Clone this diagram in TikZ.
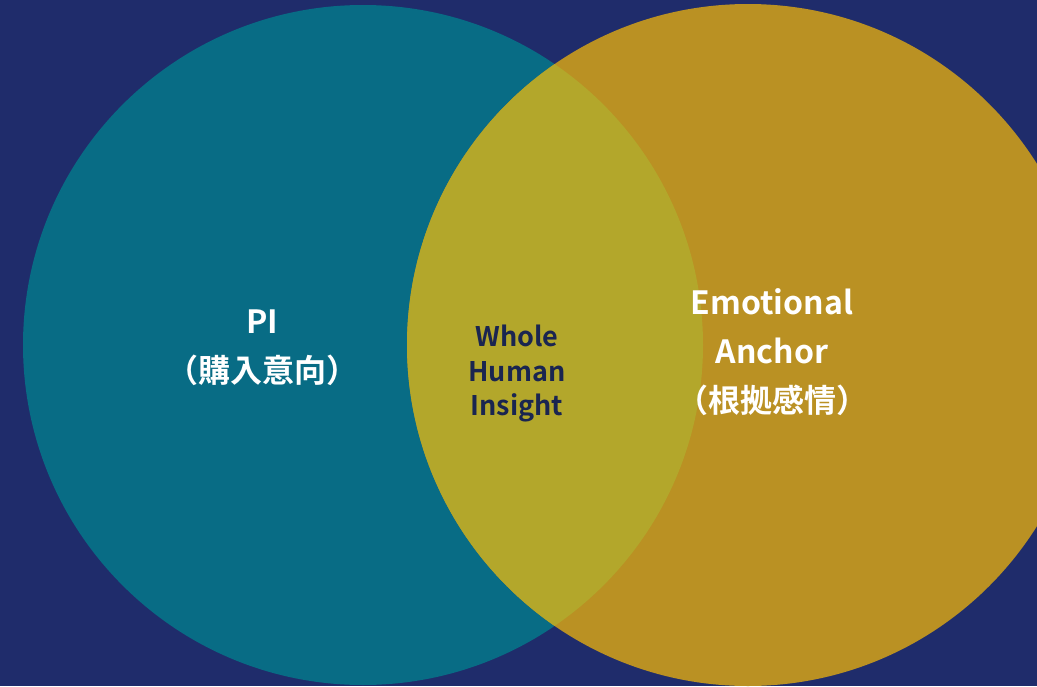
\documentclass[tikz,border=0pt]{standalone}
\usepackage{fontspec}
\newfontfamily\jp{Noto Sans CJK JP}[BoldFont={Noto Sans CJK JP Bold}]
\definecolor{bgnavy}{HTML}{1F2C6B}
\definecolor{teal}{HTML}{086C85}
\definecolor{gold}{HTML}{BA9123}
\definecolor{overlap}{HTML}{B3A72B}
\definecolor{darktext}{HTML}{1A2550}
\tikzset{
  whitelabel/.style={text=white, align=center, font=\jp\bfseries\fontsize{32}{49}\selectfont},
  darklabel/.style={text=darktext, align=center, font=\jp\bfseries\fontsize{27}{34.5}\selectfont},
}
\begin{document}
\begin{tikzpicture}[x=1pt,y=-1pt]
\fill[bgnavy] (0,0) rectangle (1037,686);
\useasboundingbox (0,0) rectangle (1037,686);
\coordinate (cl) at (363,345);
\coordinate (cr) at (748,345);
\fill[teal] (cl) circle[radius=340pt];
\fill[gold] (cr) circle[radius=341pt];
\begin{scope}
\clip (cl) circle[radius=340pt];
\fill[overlap] (cr) circle[radius=341pt];
\end{scope}
\node[whitelabel] (pi) at (262,348) {PI\\（購入意向）};
\node[darklabel] (whi) at (517,374) {Whole\\Human\\Insight};
\node[whitelabel] (ea) at (772,352) {Emotional\\Anchor\\（根拠感情）};
\end{tikzpicture}
\end{document}
